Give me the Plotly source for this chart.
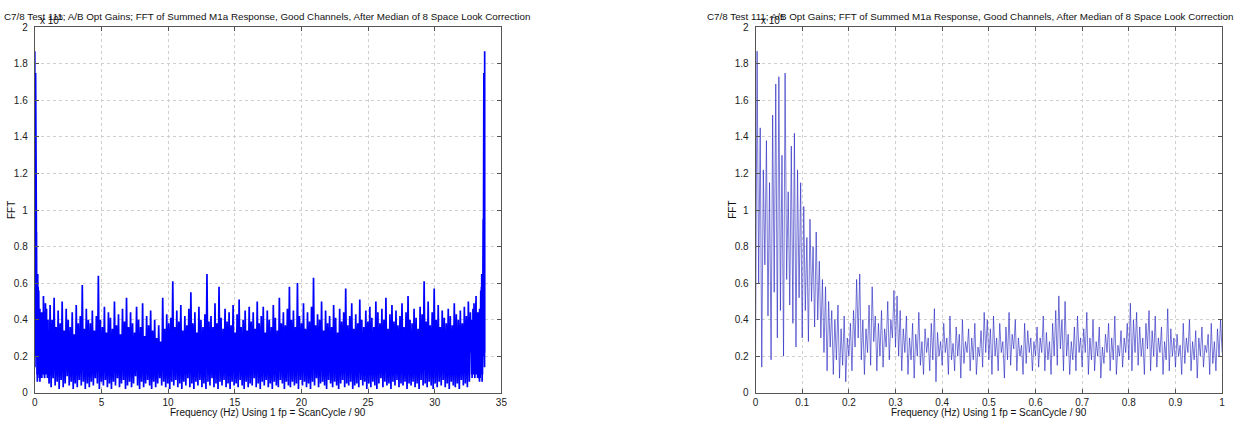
import numpy as np
import plotly.graph_objects as go

# Low-frequency FFT magnitudes (x1e5), 0 .. 1 Hz, 301 bins
low_freq_fft = [
    0.22, 1.87, 0.60, 1.45, 0.14, 1.22, 0.70, 1.38, 0.42, 1.15, 0.18, 1.52, 0.55, 1.69, 0.30, 1.73, 0.45, 1.30, 0.20, 1.75, 0.62, 1.10, 0.48, 1.35, 0.38, 1.42, 0.25, 1.22, 0.52, 1.15,
    0.30, 1.02, 0.45, 0.85, 0.28, 0.95, 0.50, 0.80, 0.36, 0.88, 0.40, 0.72, 0.30, 0.62, 0.22, 0.58, 0.12, 0.50, 0.25, 0.45, 0.10, 0.40, 0.18, 0.48, 0.08, 0.35, 0.15, 0.42, 0.06, 0.30,
    0.20, 0.38, 0.12, 0.45, 0.25, 0.62, 0.30, 0.65, 0.18, 0.40, 0.10, 0.35, 0.22, 0.48, 0.15, 0.58, 0.28, 0.42, 0.12, 0.38, 0.20, 0.45, 0.14, 0.35, 0.25, 0.50, 0.18, 0.40, 0.30, 0.56,
    0.25, 0.53, 0.20, 0.45, 0.12, 0.35, 0.22, 0.42, 0.10, 0.30, 0.18, 0.38, 0.08, 0.32, 0.20, 0.44, 0.15, 0.28, 0.10, 0.35, 0.22, 0.30, 0.12, 0.38, 0.18, 0.46, 0.06, 0.33, 0.20, 0.28,
    0.15, 0.38, 0.22, 0.30, 0.10, 0.42, 0.18, 0.27, 0.12, 0.36, 0.20, 0.32, 0.08, 0.40, 0.16, 0.28, 0.22, 0.35, 0.12, 0.30, 0.18, 0.38, 0.10, 0.25, 0.20, 0.34, 0.14, 0.44, 0.22, 0.40,
    0.18, 0.35, 0.10, 0.42, 0.20, 0.30, 0.12, 0.38, 0.22, 0.28, 0.08, 0.36, 0.18, 0.44, 0.15, 0.32, 0.24, 0.40, 0.12, 0.30, 0.20, 0.26, 0.10, 0.38, 0.16, 0.34, 0.22, 0.30, 0.12, 0.28,
    0.20, 0.36, 0.14, 0.30, 0.22, 0.42, 0.12, 0.33, 0.18, 0.28, 0.10, 0.38, 0.20, 0.45, 0.15, 0.53, 0.24, 0.40, 0.12, 0.50, 0.20, 0.32, 0.10, 0.28, 0.18, 0.36, 0.12, 0.42, 0.22, 0.30,
    0.14, 0.35, 0.22, 0.44, 0.10, 0.30, 0.18, 0.40, 0.12, 0.28, 0.20, 0.36, 0.08, 0.25, 0.16, 0.32, 0.22, 0.38, 0.12, 0.30, 0.18, 0.42, 0.10, 0.26, 0.20, 0.34, 0.14, 0.30, 0.22, 0.38,
    0.18, 0.49, 0.12, 0.40, 0.22, 0.44, 0.15, 0.36, 0.20, 0.30, 0.10, 0.38, 0.24, 0.45, 0.12, 0.34, 0.20, 0.42, 0.14, 0.30, 0.22, 0.36, 0.10, 0.28, 0.18, 0.46, 0.12, 0.35, 0.20, 0.30,
    0.14, 0.32, 0.20, 0.26, 0.10, 0.38, 0.16, 0.30, 0.22, 0.40, 0.12, 0.28, 0.18, 0.34, 0.08, 0.30, 0.20, 0.36, 0.14, 0.26, 0.22, 0.32, 0.10, 0.38, 0.16, 0.28, 0.12, 0.35, 0.20, 0.40,
    0.22,
]

# Broadband FFT magnitudes (x1e5) between 1 Hz and 32.75 Hz
mid_band_fft = [
    0.05, 0.48, 0.03, 0.40, 0.08, 0.52, 0.04, 0.36, 0.06, 0.45, 0.02, 0.38, 0.07, 0.50, 0.03, 0.34, 0.05, 0.46, 0.09, 0.40,
    0.04, 0.36, 0.06, 0.44, 0.02, 0.32, 0.05, 0.48, 0.03, 0.38, 0.07, 0.42, 0.04, 0.59, 0.06, 0.35, 0.02, 0.46, 0.05, 0.40,
    0.03, 0.38, 0.06, 0.45, 0.04, 0.34, 0.08, 0.42, 0.05, 0.64, 0.02, 0.40, 0.06, 0.36, 0.04, 0.47, 0.07, 0.33, 0.03, 0.44,
    0.05, 0.41, 0.02, 0.35, 0.06, 0.50, 0.04, 0.37, 0.08, 0.43, 0.03, 0.32, 0.05, 0.46, 0.07, 0.39, 0.02, 0.52, 0.04, 0.36,
    0.06, 0.44, 0.03, 0.38, 0.05, 0.33, 0.09, 0.47, 0.04, 0.40, 0.02, 0.36, 0.06, 0.49, 0.03, 0.31, 0.05, 0.42, 0.07, 0.37,
    0.04, 0.45, 0.02, 0.34, 0.06, 0.40, 0.03, 0.30, 0.05, 0.37, 0.08, 0.28, 0.04, 0.52, 0.06, 0.35, 0.03, 0.43, 0.05, 0.38,
    0.02, 0.41, 0.06, 0.61, 0.04, 0.36, 0.07, 0.45, 0.03, 0.39, 0.05, 0.48, 0.02, 0.34, 0.06, 0.42, 0.04, 0.37, 0.08, 0.46,
    0.03, 0.55, 0.05, 0.38, 0.02, 0.44, 0.06, 0.33, 0.04, 0.47, 0.07, 0.40, 0.03, 0.36, 0.05, 0.43, 0.02, 0.65, 0.06, 0.39,
    0.04, 0.42, 0.08, 0.36, 0.03, 0.49, 0.05, 0.38, 0.02, 0.58, 0.06, 0.41, 0.04, 0.35, 0.07, 0.46, 0.03, 0.39, 0.05, 0.44,
    0.02, 0.37, 0.06, 0.48, 0.04, 0.33, 0.05, 0.43, 0.03, 0.51, 0.07, 0.36, 0.04, 0.40, 0.02, 0.45, 0.06, 0.34, 0.03, 0.47,
    0.05, 0.39, 0.04, 0.44, 0.08, 0.35, 0.03, 0.50, 0.05, 0.38, 0.02, 0.42, 0.06, 0.47, 0.04, 0.33, 0.07, 0.45, 0.03, 0.40,
    0.05, 0.36, 0.02, 0.48, 0.06, 0.41, 0.04, 0.34, 0.03, 0.52, 0.07, 0.38, 0.05, 0.44, 0.02, 0.37, 0.06, 0.46, 0.04, 0.58,
    0.03, 0.40, 0.06, 0.45, 0.04, 0.36, 0.05, 0.60, 0.02, 0.42, 0.07, 0.38, 0.04, 0.49, 0.06, 0.35, 0.03, 0.44, 0.05, 0.39,
    0.02, 0.47, 0.06, 0.63, 0.04, 0.37, 0.08, 0.43, 0.03, 0.40, 0.05, 0.50, 0.06, 0.34, 0.04, 0.45, 0.02, 0.38, 0.07, 0.42,
    0.05, 0.36, 0.03, 0.48, 0.06, 0.41, 0.04, 0.33, 0.02, 0.46, 0.05, 0.39, 0.07, 0.44, 0.03, 0.57, 0.05, 0.37, 0.04, 0.42,
    0.06, 0.49, 0.02, 0.35, 0.04, 0.43, 0.05, 0.38, 0.03, 0.51, 0.07, 0.40, 0.04, 0.36, 0.06, 0.45, 0.02, 0.39, 0.05, 0.47,
    0.03, 0.41, 0.06, 0.36, 0.04, 0.50, 0.02, 0.44, 0.05, 0.38, 0.08, 0.46, 0.03, 0.40, 0.06, 0.52, 0.04, 0.35, 0.05, 0.43,
    0.02, 0.48, 0.06, 0.39, 0.04, 0.45, 0.07, 0.37, 0.03, 0.42, 0.05, 0.49, 0.04, 0.36, 0.06, 0.44, 0.02, 0.53, 0.05, 0.40,
    0.04, 0.38, 0.06, 0.46, 0.03, 0.41, 0.05, 0.35, 0.02, 0.47, 0.07, 0.43, 0.04, 0.61, 0.05, 0.39, 0.03, 0.50, 0.06, 0.37,
    0.04, 0.44, 0.02, 0.57, 0.05, 0.40, 0.03, 0.48, 0.06, 0.36, 0.04, 0.45, 0.07, 0.41, 0.03, 0.38, 0.05, 0.46, 0.02, 0.42,
    0.06, 0.37, 0.04, 0.49, 0.03, 0.43, 0.05, 0.40, 0.02, 0.45, 0.07, 0.38, 0.04, 0.47, 0.05, 0.42, 0.03, 0.50, 0.06, 0.44,
]

sample_rate_hz = 33.75           # full spectrum spans 0 .. fs (mirror-symmetric)
zoom_max_hz = 1.0
left_xticks = [0, 5, 10, 15, 20, 25, 30, 35]
right_xticks = [0, 0.1, 0.2, 0.3, 0.4, 0.5, 0.6, 0.7, 0.8, 0.9, 1.0]
right_xlabels = ["0", "0.1", "0.2", "0.3", "0.4", "0.5", "0.6", "0.7", "0.8", "0.9", "1"]
yticks = [0, 0.2, 0.4, 0.6, 0.8, 1.0, 1.2, 1.4, 1.6, 1.8, 2.0]
ylabels = ["0", "0.2", "0.4", "0.6", "0.8", "1", "1.2", "1.4", "1.6", "1.8", "2"]

title_text = ("C7/8 Test 111; A/B Opt Gains; FFT of Summed M1a Response, "
              "Good Channels, After Median of 8 Space Look Correction")
xlabel_text = "Frequency (Hz) Using 1 fp = ScanCycle / 90"

# frequency bins
f_low = np.linspace(0.0, zoom_max_hz, len(low_freq_fft))
f_mid = np.linspace(zoom_max_hz, sample_rate_hz - zoom_max_hz, len(mid_band_fft) + 2)[1:-1]
f_high = sample_rate_hz - f_low[::-1]

full_f = np.concatenate([f_low, f_mid, f_high])
full_v = np.concatenate([low_freq_fft, mid_band_fft, low_freq_fft[::-1]])

W, H = 1248, 424
def px_x(p):
    return p / W
def px_y(p):
    return 1 - p / H

FONT = "Liberation Sans, Arial, sans-serif"

fig = go.Figure()
fig.add_trace(go.Scatter(x=full_f, y=full_v, mode="lines",
                         line=dict(color="#0000ff", width=1.7),
                         xaxis="x", yaxis="y", showlegend=False, hoverinfo="skip"))
fig.add_trace(go.Scatter(x=f_low, y=low_freq_fft, mode="lines",
                         line=dict(color="rgba(30,30,190,0.6)", width=1),
                         xaxis="x2", yaxis="y2", showlegend=False, hoverinfo="skip"))

axis_common = dict(showline=True, mirror="ticks", linecolor="#555", linewidth=1,
                   ticks="inside", ticklen=4, tickcolor="#555",
                   showgrid=True, gridcolor="#cfcfcf", griddash="dot", gridwidth=1,
                   zeroline=False, tickfont=dict(family=FONT, size=10, color="#222"))

# plot boxes (page pixels)
LEFT_BOX = (32, 502)
RIGHT_BOX = (758, 1228)
TOP, BOTTOM = 22, 398

ydom = [px_y(BOTTOM), px_y(TOP)]
fig.update_layout(
    width=W, height=H, margin=dict(l=0, r=0, t=0, b=0),
    paper_bgcolor="white", plot_bgcolor="white",
    xaxis=dict(domain=[px_x(LEFT_BOX[0]), px_x(LEFT_BOX[1])], range=[0, 35], tickvals=left_xticks,
               anchor="y", **axis_common),
    yaxis=dict(domain=ydom, range=[0, 2], tickvals=yticks, ticktext=ylabels,
               anchor="x", ticklabelstandoff=4, **axis_common),
    xaxis2=dict(domain=[px_x(RIGHT_BOX[0]), px_x(RIGHT_BOX[1])], range=[0, 1], tickvals=right_xticks,
                ticktext=right_xlabels, anchor="y2", **axis_common),
    yaxis2=dict(domain=ydom, range=[0, 2], tickvals=yticks, ticktext=ylabels,
                anchor="x2", ticklabelstandoff=4, **axis_common),
)

annotations = []
for (title_cx, (plot_l, plot_r)) in [(266, LEFT_BOX), (974, RIGHT_BOX)]:
    annotations.append(dict(text=title_text, x=px_x(title_cx), y=px_y(11), xref="paper", yref="paper",
                            xanchor="center", yanchor="middle", showarrow=False,
                            font=dict(family=FONT, size=9.8, color="#111")))
    annotations.append(dict(text="x 10<sup>5</sup>", x=px_x(plot_l + 3), y=px_y(14), xref="paper", yref="paper",
                            xanchor="left", yanchor="middle", showarrow=False,
                            font=dict(family=FONT, size=10, color="#111")))
    annotations.append(dict(text="FFT", x=px_x(plot_l - 24), y=px_y(210), xref="paper", yref="paper",
                            xanchor="center", yanchor="middle", textangle=-90, showarrow=False,
                            font=dict(family=FONT, size=10, color="#111")))
    annotations.append(dict(text=xlabel_text, x=px_x((plot_l + plot_r) / 2), y=px_y(418), xref="paper", yref="paper",
                            xanchor="center", yanchor="middle", showarrow=False,
                            font=dict(family=FONT, size=10, color="#111")))
fig.update_layout(annotations=annotations)

fig.write_html("out.html")
